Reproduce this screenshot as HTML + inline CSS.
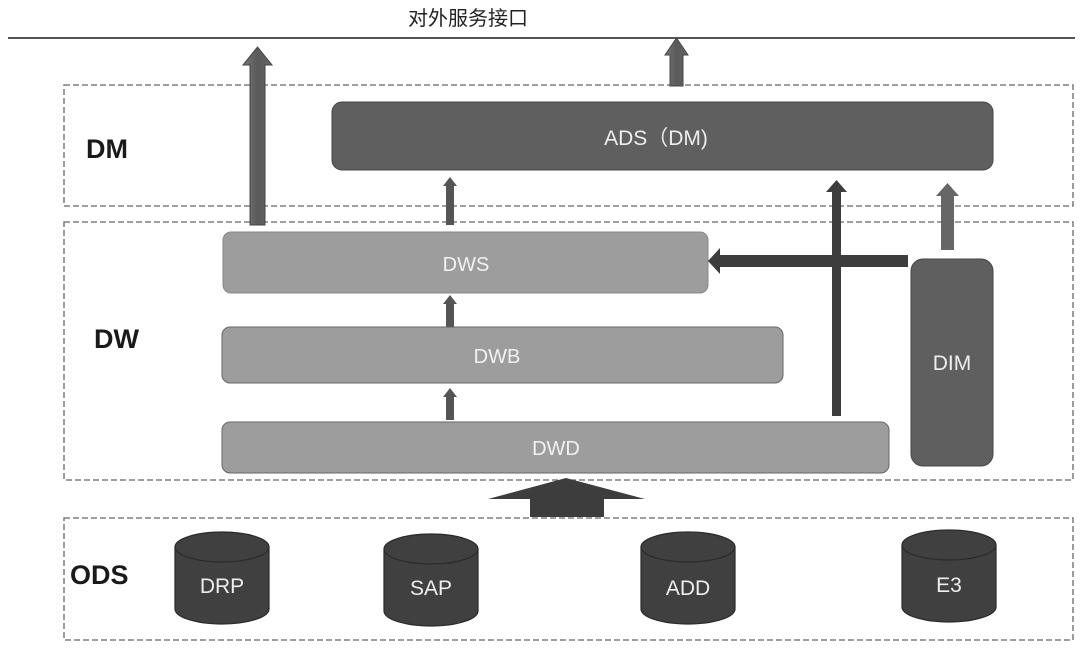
<!DOCTYPE html>
<html><head><meta charset="utf-8"><style>
html,body{margin:0;padding:0;background:#fff;}
svg{display:block;}
text{font-family:"Liberation Sans","Noto Sans CJK SC",sans-serif;}
</style></head><body>
<svg width="1080" height="649" viewBox="0 0 1080 649" xmlns="http://www.w3.org/2000/svg">
<defs>
<linearGradient id="ga" x1="0" x2="1" y1="0" y2="0"><stop offset="0" stop-color="#777"/><stop offset="0.5" stop-color="#5a5a5a"/><stop offset="1" stop-color="#666"/></linearGradient>
</defs>
<text x="468" y="25" font-size="20" text-anchor="middle" fill="#222">对外服务接口</text>
<line x1="8" y1="38" x2="1075" y2="38" stroke="#555" stroke-width="2"/>
<!-- dashed boxes -->
<g fill="none" stroke="#666" stroke-width="1.3" stroke-dasharray="6,3">
<rect x="64" y="85" width="1009" height="121"/>
<rect x="64" y="222" width="1009" height="258"/>
<rect x="64" y="518" width="1009" height="122"/>
</g>
<text x="86" y="158" font-size="27" font-weight="bold" fill="#1a1a1a">DM</text>
<text x="94" y="348" font-size="27" font-weight="bold" fill="#1a1a1a">DW</text>
<text x="70" y="584" font-size="27" font-weight="bold" fill="#1a1a1a">ODS</text>
<!-- boxes -->
<rect x="332" y="102" width="661" height="68" rx="10" fill="#5f5f5f" stroke="#444"/>
<text x="656" y="145" font-size="21" fill="#eee" text-anchor="middle">ADS（DM)</text>
<rect x="223" y="232" width="485" height="61" rx="8" fill="#9d9d9d" stroke="#888"/>
<text x="466" y="271" font-size="20" fill="#f2f2f2" text-anchor="middle">DWS</text>
<rect x="222" y="327" width="561" height="56" rx="8" fill="#9d9d9d" stroke="#666"/>
<text x="497" y="363" font-size="20" fill="#f2f2f2" text-anchor="middle">DWB</text>
<rect x="222" y="422" width="667" height="51" rx="8" fill="#9d9d9d" stroke="#666"/>
<text x="556" y="455" font-size="20" fill="#f2f2f2" text-anchor="middle">DWD</text>
<rect x="911" y="259" width="82" height="207" rx="12" fill="#5f5f5f" stroke="#444"/>
<text x="952" y="370" font-size="21" fill="#eee" text-anchor="middle">DIM</text>
<!-- arrows -->
<polygon points="250,225 250,65 243,65 257.5,47 272,65 265,65 265,225" fill="url(#ga)" stroke="#444" stroke-width="1"/>
<polygon points="670,86 670,55 665,55 676.5,38 688,55 683,55 683,86" fill="url(#ga)" stroke="#444" stroke-width="1"/>
<polygon points="446,225 446,186 443,186 450,177 457,186 454,186 454,225" fill="#555"/>
<polygon points="446,327 446,304 443,304 450,295 457,304 454,304 454,327" fill="#555"/>
<polygon points="446,420 446,397 443,397 450,388 457,397 454,397 454,420" fill="#555"/>
<polygon points="941,250 941,196 936,196 947.5,183 959,196 954,196 954,250" fill="#666"/>
<polygon points="908,255 720,255 720,248 708,261 720,274 720,267 908,267" fill="#3d3d3d"/>
<polygon points="832,416 832,192 826,192 836.5,180 847,192 841,192 841,416" fill="#3d3d3d"/>
<polygon points="530,517 530,499 488,499 566,478 645,499 604,499 604,517" fill="#3d3d3d"/>
<!-- cylinders -->
<g fill="#404040" stroke="#2a2a2a" stroke-width="1.2">
<path d="M175,547 L175,609 A47,15 0 0 0 269,609 L269,547"/><ellipse cx="222" cy="547" rx="47" ry="15"/>
<path d="M384,549 L384,611 A47,15 0 0 0 478,611 L478,549"/><ellipse cx="431" cy="549" rx="47" ry="15"/>
<path d="M641,547 L641,609 A47,15 0 0 0 735,609 L735,547"/><ellipse cx="688" cy="547" rx="47" ry="15"/>
<path d="M902,545 L902,607 A47,15 0 0 0 996,607 L996,545"/><ellipse cx="949" cy="545" rx="47" ry="15"/>
</g>
<g font-size="21" fill="#eee" text-anchor="middle">
<text x="222" y="593">DRP</text>
<text x="431" y="595">SAP</text>
<text x="688" y="595">ADD</text>
<text x="949" y="592">E3</text>
</g>
</svg>
</body></html>
